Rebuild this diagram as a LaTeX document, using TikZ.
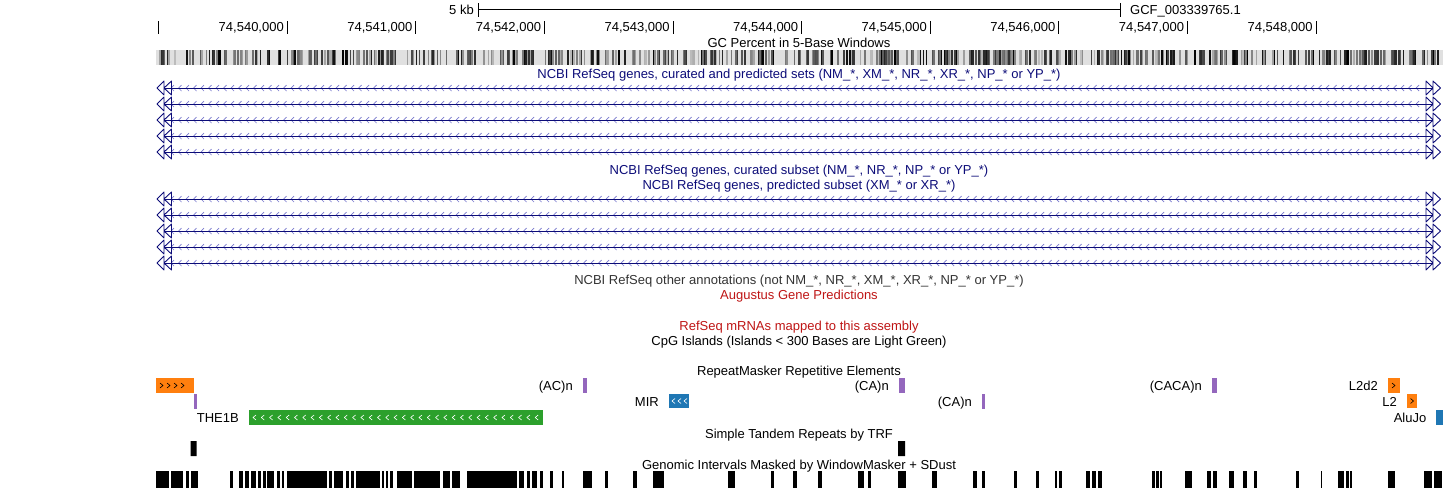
\documentclass[tikz,border=0pt]{standalone}
\usepackage{fontspec}
\setmainfont{Liberation Sans}
\definecolor{refnavy}{RGB}{12,12,120}
\definecolor{refchev}{RGB}{120,120,205}
\definecolor{augred}{RGB}{190,20,20}
\definecolor{rmorange}{RGB}{255,127,14}
\definecolor{rmgreen}{RGB}{44,160,44}
\definecolor{rmblue}{RGB}{31,119,180}
\definecolor{rmpurple}{RGB}{148,103,189}
\tikzset{
  title/.style={anchor=base,inner sep=0pt},
  lbl/.style={anchor=base east,inner sep=0pt},
  gline/.style={refnavy,line width=1pt},
  garrow/.style={refnavy,line width=0.9pt},
  chev/.style={refchev,line width=0.7pt},
  rchev/.style={line width=0.6pt},
}
\begin{document}
\begin{tikzpicture}[x=1pt,y=-1pt,font=\fontsize{13}{15}\selectfont, line join=round]
\useasboundingbox (0,0) rectangle (1443,488);
% scale bar and ruler
\draw (478.5,3)--(478.5,17) (478.5,9)--(1120,9) (1120,3)--(1120,17);
\node[lbl] (kb) at (474,14) {5 kb};
\node[title,anchor=base west] (asm) at (1130,14) {GCF\_003339765.1};
\draw (158.5,21)--(158.5,34);
\foreach \k in {0,...,8}{
	\draw (287+128.6*\k,21)--(287+128.6*\k,34);
	\node[lbl] (pos\k) at (284+128.6*\k,31) {74,54\k,000};}
% GC percent
\node[title] (gc) at (799,47) {GC Percent in 5-Base Windows};
\fill[black!12] (156,50) rectangle (1443,65);
\pgfmathsetseed{42}
\foreach \i in {0,...,857}{
	\pgfmathsetmacro\v{rnd<0.5 ? 12 : 25+75*rnd}
	\fill[black!\v] (156+1.5*\i,50) rectangle ++(1.5,15);}
% RefSeq genes
\node[title,refnavy] (allgenes) at (799,78) {NCBI RefSeq genes, curated and predicted sets (NM\_*, XM\_*, NR\_*, XR\_*, NP\_* or YP\_*)};
\node[title,refnavy] (curated) at (799,174) {NCBI RefSeq genes, curated subset (NM\_*, NR\_*, NP\_* or YP\_*)};
\node[title,refnavy] (predicted) at (799,189) {NCBI RefSeq genes, predicted subset (XM\_* or XR\_*)};
\foreach \y in {88,104,120,136,152,199,215,231,247,263}{
	\foreach \x in {172,179.5,...,1424}
		\draw[chev] (\x+2,\y-3)--(\x-1,\y)--(\x+2,\y+3);
	\draw[gline] (164,\y)--(1433,\y);
	\draw[garrow] (164,\y-7)--(157,\y)--(164,\y+7)--cycle (171.5,\y-7)--(164,\y)--(171.5,\y+7)--cycle;
	\draw[garrow] (1426,\y-7)--(1433,\y)--(1426,\y+7)--cycle (1433,\y-7)--(1440.5,\y)--(1433,\y+7)--cycle;}
\node[title,black!80] (other) at (799,284) {NCBI RefSeq other annotations (not NM\_*, NR\_*, XM\_*, XR\_*, NP\_* or YP\_*)};
\node[title,augred] (augustus) at (799,299) {Augustus Gene Predictions};
\node[title,augred] (mrna) at (799,330) {RefSeq mRNAs mapped to this assembly};
\node[title] (cpg) at (799,345) {CpG Islands (Islands < 300 Bases are Light Green)};
% RepeatMasker
\node[title] (rmsk) at (799,375) {RepeatMasker Repetitive Elements};
\fill[rmorange] (156,378) rectangle (193.7,393);
\foreach \x in {160,167,174,181}
	\draw[rchev] (\x,383)--(\x+3,385.5)--(\x,388);
\fill[rmpurple] (193.7,394) rectangle (197,409);
\node[lbl] (the1b) at (239,422) {THE1B};
\fill[rmgreen] (249,410) rectangle (543,425);
\foreach \x in {253,261.3,...,538}
	\draw[rchev,white] (\x+3,415)--(\x,417.5)--(\x+3,420);
\node[lbl] (acn) at (573,390) {(AC)n};
\fill[rmpurple] (583,378) rectangle (586.5,393);
\node[lbl] (mir) at (659,406) {MIR};
\fill[rmblue] (669,394) rectangle (689,408);
\foreach \x in {672,678,684}
	\draw[rchev,white] (\x+3,398.5)--(\x,401)--(\x+3,403.5);
\node[lbl] (can1) at (889,390) {(CA)n};
\fill[rmpurple] (898.5,378) rectangle (904.5,393);
\node[lbl] (can2) at (972,406) {(CA)n};
\fill[rmpurple] (981.5,394) rectangle (985,409);
\node[lbl] (cacan) at (1202,390) {(CACA)n};
\fill[rmpurple] (1212,378) rectangle (1217,393);
\node[lbl] (ltwod) at (1378,390) {L2d2};
\fill[rmorange] (1388,378) rectangle (1399.5,393);
\draw[rchev] (1392,383)--(1395,385.5)--(1392,388);
\node[lbl] (ltwo) at (1397,406) {L2};
\fill[rmorange] (1407,394) rectangle (1416.5,408);
\draw[rchev] (1410.5,398.5)--(1413.5,401)--(1410.5,403.5);
\node[lbl] (alujo) at (1426.5,422) {AluJo};
\fill[rmblue] (1436,410) rectangle (1443,425);
% TRF
\node[title] (trf) at (799,438) {Simple Tandem Repeats by TRF};
\fill (190.7,441) rectangle (196.7,456) (898,441) rectangle (905,456);
% WindowMasker
\node[title] (wm) at (799,469) {Genomic Intervals Masked by WindowMasker + SDust};
\foreach \a/\b in {156/169,171/183,186/189,191/198,230/233,239/243,244.5/249,251/256,257.5/261,263/265.5,267/274,277/280,282/284,
	287/327,329/332,334/343,346/349,351/354,356/380,382/384,386/388,390/393,397/412,414/440,443/450,452/460,467/517,519/524,527/530,532/537,
	540/543,550/553,562/564,583/592,605/608,633/637,653/664,728/735,771/774,793/797,818/822,858/864,868/871,898/906,932/937,973/977,982/985,
	1014/1017,1036/1039,1055/1057,1059/1062,1086/1090,1092/1096,1098/1102,1152/1154.5,1156/1158.5,1160/1162,1185/1192,1207/1211,1213/1217,
	1229/1234,1243/1246.5,1254/1256.5,1296/1298.5,1321/1322,1338/1344,1346/1348.5,1350/1352,1388/1395,1424/1432,1434/1442}
	\fill (\a,471) rectangle (\b,488);
\end{tikzpicture}
\end{document}
